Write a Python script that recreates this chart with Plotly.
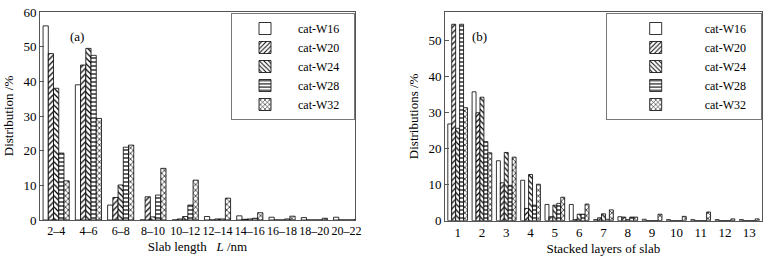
import plotly.graph_objects as go

series_names = ["cat-W16", "cat-W20", "cat-W24", "cat-W28", "cat-W32"]

# Panel (a): slab length distribution
length_bins = ["2\u20134", "4\u20136", "6\u20138", "8\u201310", "10\u201312",
               "12\u201314", "14\u201316", "16\u201318", "18\u201320", "20\u201322"]
len_W16 = [56.0, 39.0, 4.3, 0.0, 0.0, 1.0, 1.2, 0.8, 0.7, 0.8]
len_W20 = [48.0, 44.7, 6.5, 6.7, 0.3, 0.0, 0.2, 0.0, 0.0, 0.0]
len_W24 = [38.0, 49.5, 10.1, 0.9, 1.0, 0.3, 0.3, 0.0, 0.0, 0.0]
len_W28 = [19.3, 47.5, 21.0, 7.2, 4.3, 0.3, 0.5, 0.3, 0.0, 0.0]
len_W32 = [11.3, 29.3, 21.6, 14.9, 11.5, 6.3, 2.1, 1.1, 0.5, 0.2]

# Panel (b): stacked layers distribution
layers = list(range(1, 14))
lay_W16 = [26.8, 35.7, 16.6, 11.2, 4.5, 4.5, 0.3, 1.1, 0.4, 0.3, 0.3, 0.3, 0.3]
lay_W20 = [54.4, 29.9, 10.5, 3.4, 1.1, 0.3, 0.8, 1.0, 0.0, 0.0, 0.0, 0.0, 0.0]
lay_W24 = [25.6, 34.2, 18.9, 12.8, 4.3, 1.8, 1.9, 0.3, 0.0, 0.0, 0.0, 0.0, 0.0]
lay_W28 = [54.4, 21.9, 9.8, 4.3, 4.8, 1.8, 0.4, 1.0, 0.0, 0.0, 0.0, 0.0, 0.0]
lay_W32 = [31.3, 18.8, 17.6, 10.1, 6.5, 4.6, 3.0, 1.0, 1.8, 1.2, 2.4, 0.5, 0.5]

patterns = ["", "/", "\\", "-", "x"]
FONT = "Liberation Serif"
PAD = "\u00a0\u00a0\u00a0"

fig = go.Figure()

len_series = [len_W16, len_W20, len_W24, len_W28, len_W32]
lay_series = [lay_W16, lay_W20, lay_W24, lay_W28, lay_W32]

for i, (name, vals, pat) in enumerate(zip(series_names, len_series, patterns)):
    fig.add_trace(go.Bar(
        x=list(range(len(length_bins))), y=vals, name=name + PAD,
        xaxis="x", yaxis="y", legend="legend", legendgroup=f"a{i}",
        marker=dict(color="white", line=dict(color="black", width=0.8),
                    pattern=dict(shape=pat, fgcolor="black", bgcolor="white",
                                 size=4, solidity=0.3)),
    ))

for i, (name, vals, pat) in enumerate(zip(series_names, lay_series, patterns)):
    fig.add_trace(go.Bar(
        x=layers, y=vals, name=name + PAD,
        xaxis="x2", yaxis="y2", legend="legend2", legendgroup=f"b{i}",
        marker=dict(color="white", line=dict(color="black", width=0.8),
                    pattern=dict(shape=pat, fgcolor="black", bgcolor="white",
                                 size=4, solidity=0.3)),
    ))

W, H = 769, 263
ax_common = dict(showline=True, linecolor="#555", linewidth=1, mirror=True,
                 showgrid=False, zeroline=False, automargin=False)
tick13 = dict(family=FONT, size=13, color="black")

fig.update_layout(
    template="none",
    width=W, height=H,
    margin=dict(l=0, r=0, t=0, b=0, autoexpand=False),
    paper_bgcolor="white", plot_bgcolor="white",
    font=dict(family=FONT, size=13, color="black"),
    barmode="group", bargap=0.19, bargroupgap=0,
    xaxis=dict(domain=[40 / W, 355 / W], range=[-0.5, 9.26],
               tickvals=list(range(len(length_bins))), ticktext=length_bins,
               ticks="", anchor="y", tickangle=0,
               tickfont=dict(family=FONT, size=12, color="black"),
               title=dict(text="Slab length\u2002 <i>L</i> /nm",
                          font=dict(family=FONT, size=13), standoff=4),
               **ax_common),
    yaxis=dict(domain=[1 - 220 / H, 1 - 12 / H], range=[0, 60],
               tickvals=[0, 10, 20, 30, 40, 50, 60], ticks="inside", ticklen=4,
               tickcolor="#555", anchor="x", tickfont=tick13,
               title=dict(text="Distribution /%", font=dict(family=FONT, size=13),
                          standoff=6),
               **ax_common),
    xaxis2=dict(domain=[445 / W, 761.7 / W], range=[0.48, 13.51],
                tickvals=layers, ticks="", anchor="y2", tickangle=0,
                tickfont=tick13,
                title=dict(text="Stacked layers of slab",
                           font=dict(family=FONT, size=13), standoff=4),
                **ax_common),
    yaxis2=dict(domain=[1 - 220.7 / H, 1 - 12 / H], range=[0, 57.8],
                tickvals=[0, 10, 20, 30, 40, 50], ticks="inside", ticklen=4,
                tickcolor="#555", anchor="x2", tickfont=tick13,
                title=dict(text="Distributions /%", font=dict(family=FONT, size=13),
                           standoff=6),
                **ax_common),
    legend=dict(x=355 / W, y=1 - 13 / H, xanchor="right", yanchor="top",
                bgcolor="white", bordercolor="#777", borderwidth=1,
                font=dict(family=FONT, size=12), tracegroupgap=0,
                itemwidth=56),
    legend2=dict(x=761.7 / W, y=1 - 13 / H, xanchor="right", yanchor="top",
                 bgcolor="white", bordercolor="#777", borderwidth=1,
                 font=dict(family=FONT, size=12), tracegroupgap=0,
                 itemwidth=88),
    showlegend=True,
    annotations=[
        dict(text="(a)", x=68 / W, y=1 - 27 / H, xref="paper", yref="paper",
             showarrow=False, font=dict(family=FONT, size=13)),
        dict(text="(b)", x=479 / W, y=1 - 27 / H, xref="paper", yref="paper",
             showarrow=False, font=dict(family=FONT, size=13)),
    ],
)

fig.write_html("out.html", config={"displayModeBar": False},
               post_script="document.body.style.margin='0';document.body.style.overflow='hidden';")
